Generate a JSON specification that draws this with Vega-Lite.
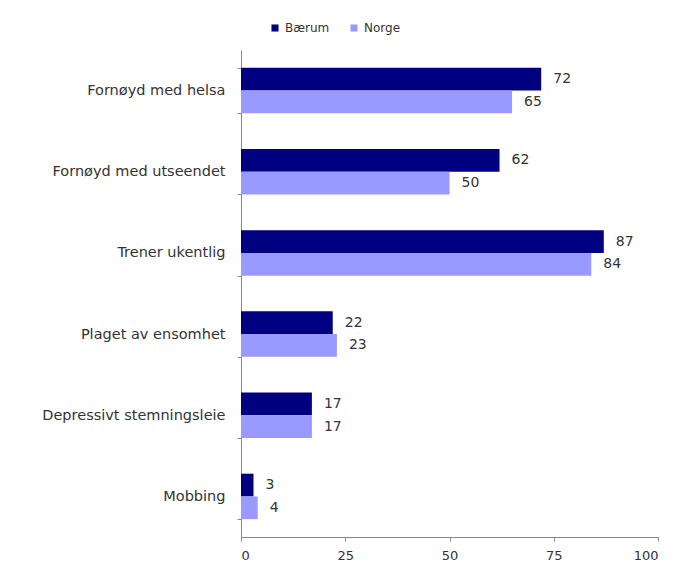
{
  "$schema": "https://vega.github.io/schema/vega-lite/v6.json",
  "autosize": "none",
  "width": 417,
  "height": 487,
  "padding": {"left": 241, "top": 50, "right": 20, "bottom": 35},
  "background": "white",
  "config": {
    "view": {"stroke": null},
    "font": "DejaVu Sans",
    "axis": {"domainColor": "#888888", "tickColor": "#888888", "labelColor": "#333333", "labelFont": "DejaVu Sans", "labelFontSize": 14.5, "labelLimit": 300, "grid": false, "title": null}
  },
  "data": {
    "values": [
      {"kategori": "Fornøyd med helsa", "serie": "Bærum", "verdi": 72},
      {"kategori": "Fornøyd med helsa", "serie": "Norge", "verdi": 65},
      {"kategori": "Fornøyd med utseendet", "serie": "Bærum", "verdi": 62},
      {"kategori": "Fornøyd med utseendet", "serie": "Norge", "verdi": 50},
      {"kategori": "Trener ukentlig", "serie": "Bærum", "verdi": 87},
      {"kategori": "Trener ukentlig", "serie": "Norge", "verdi": 84},
      {"kategori": "Plaget av ensomhet", "serie": "Bærum", "verdi": 22},
      {"kategori": "Plaget av ensomhet", "serie": "Norge", "verdi": 23},
      {"kategori": "Depressivt stemningsleie", "serie": "Bærum", "verdi": 17},
      {"kategori": "Depressivt stemningsleie", "serie": "Norge", "verdi": 17},
      {"kategori": "Mobbing", "serie": "Bærum", "verdi": 3},
      {"kategori": "Mobbing", "serie": "Norge", "verdi": 4}
    ]
  },
  "encoding": {
    "y": {
      "field": "kategori", "type": "nominal", "sort": null,
      "scale": {"paddingInner": 0.44, "paddingOuter": 0.22},
      "axis": {"tickBand": "extent", "tickSize": 4, "labelPadding": 12}
    },
    "yOffset": {"field": "serie", "type": "nominal", "sort": ["Bærum", "Norge"]},
    "x": {
      "field": "verdi", "type": "quantitative",
      "scale": {"domain": [0, 100], "nice": false},
      "axis": {"values": [0, 25, 50, 75, 100], "tickSize": 4, "labelPadding": 8, "labelFontSize": 13}
    }
  },
  "layer": [
    {
      "mark": {"type": "bar"},
      "encoding": {
        "color": {
          "field": "serie", "type": "nominal",
          "scale": {"domain": ["Bærum", "Norge"], "range": ["#000080", "#9999ff"]},
          "legend": {"title": null, "orient": "none", "direction": "horizontal", "legendX": 28, "legendY": -28, "symbolType": "square", "symbolSize": 50, "labelFontSize": 12, "labelColor": "#333333", "columnPadding": 18, "symbolStrokeWidth": 0}
        }
      }
    },
    {
      "mark": {"type": "text", "align": "left", "baseline": "middle", "dx": 12, "fontSize": 14, "color": "#333333"},
      "encoding": {"text": {"field": "verdi", "type": "quantitative"}}
    }
  ]
}
